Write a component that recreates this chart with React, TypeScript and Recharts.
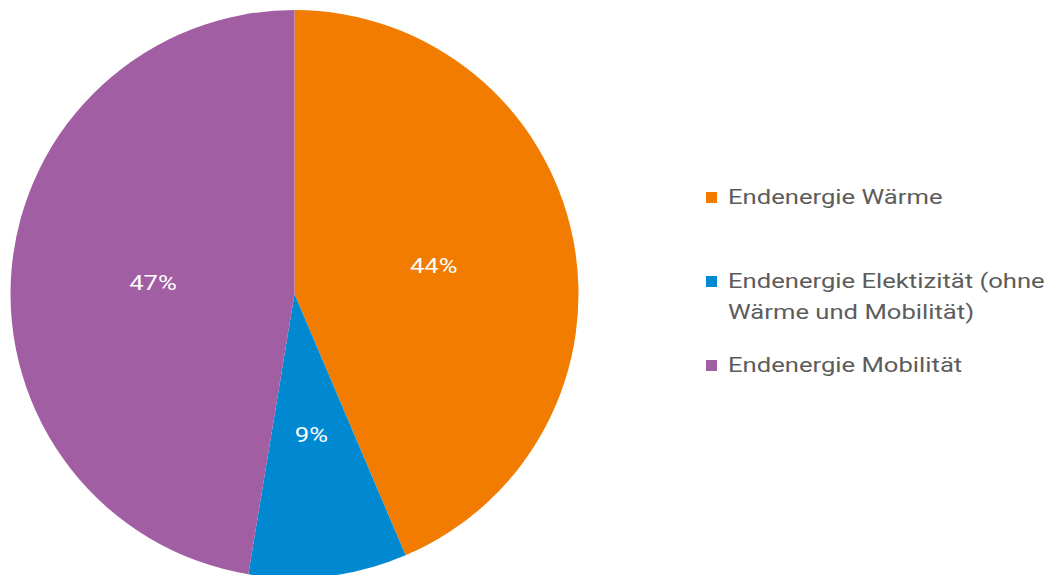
import React from 'react';
import { PieChart, Pie, Cell, Legend } from 'recharts';

const categories = [
  'Endenergie Wärme',
  'Endenergie Elektizität (ohne Wärme und Mobilität)',
  'Endenergie Mobilität',
];
// shares in percent, read from the slice edges (labels show them rounded)
const values = [43.6, 9.0, 47.4];
const colors = ['#F27C00', '#0089D0', '#A25EA2'];

const chartData = categories.map((name, i) => ({ name, value: values[i] }));

const RAD = Math.PI / 180;
// the reference font is Roboto drawn a bit wider
const STRETCH = 1.22;

function renderLabel(props: any) {
  const { cx, cy, midAngle, outerRadius, value } = props;
  const r = outerRadius * 0.5;
  const x = cx + r * Math.cos(-midAngle * RAD);
  const y = cy + r * Math.sin(-midAngle * RAD);
  return (
    <text
      x={0}
      y={0}
      transform={`translate(${x},${y}) scale(${STRETCH},1)`}
      fill="#ffffff"
      fontSize={21}
      fontFamily="Roboto, sans-serif"
      textAnchor="middle"
      dominantBaseline="central"
    >
      {`${Math.round(value)}%`}
    </text>
  );
}

// legend item tops, picked to match the reference spacing
const legendTops = [182, 266, 350];

function LegendContent() {
  return (
    <div style={{ position: 'relative', width: 350, height: 575 }}>
      {chartData.map((d, i) => (
        <div
          key={d.name}
          style={{
            position: 'absolute',
            left: 0,
            top: legendTops[i],
            display: 'flex',
            alignItems: 'flex-start',
            fontFamily: 'Roboto, sans-serif',
            fontSize: 21,
            lineHeight: '31px',
            color: '#5c5c5c',
          }}
        >
          <span
            style={{
              display: 'inline-block',
              width: 11,
              height: 11,
              background: colors[i],
              marginTop: 10,
              marginRight: 11,
              flexShrink: 0,
            }}
          />
          <span
            style={{
              display: 'inline-block',
              width: 272,
              transform: `scaleX(${STRETCH})`,
              transformOrigin: 'left top',
            }}
          >
            {d.name}
          </span>
        </div>
      ))}
    </div>
  );
}

export default function App() {
  return (
    <div style={{ position: 'absolute', left: 0, top: 0, width: 1059, height: 575, background: '#fff', overflow: 'hidden' }}>
      <PieChart width={1059} height={575}>
        <Pie
          data={chartData}
          dataKey="value"
          nameKey="name"
          cx={289.5}
          cy={289}
          outerRadius={284}
          startAngle={90}
          endAngle={-270}
          stroke="none"
          label={renderLabel}
          labelLine={false}
          isAnimationActive={false}
        >
          {chartData.map((d, i) => (
            <Cell key={d.name} fill={colors[i]} />
          ))}
        </Pie>
        <Legend
          content={<LegendContent />}
          wrapperStyle={{ position: 'absolute', left: 706, top: 0, width: 350, height: 575 }}
        />
      </PieChart>
    </div>
  );
}
